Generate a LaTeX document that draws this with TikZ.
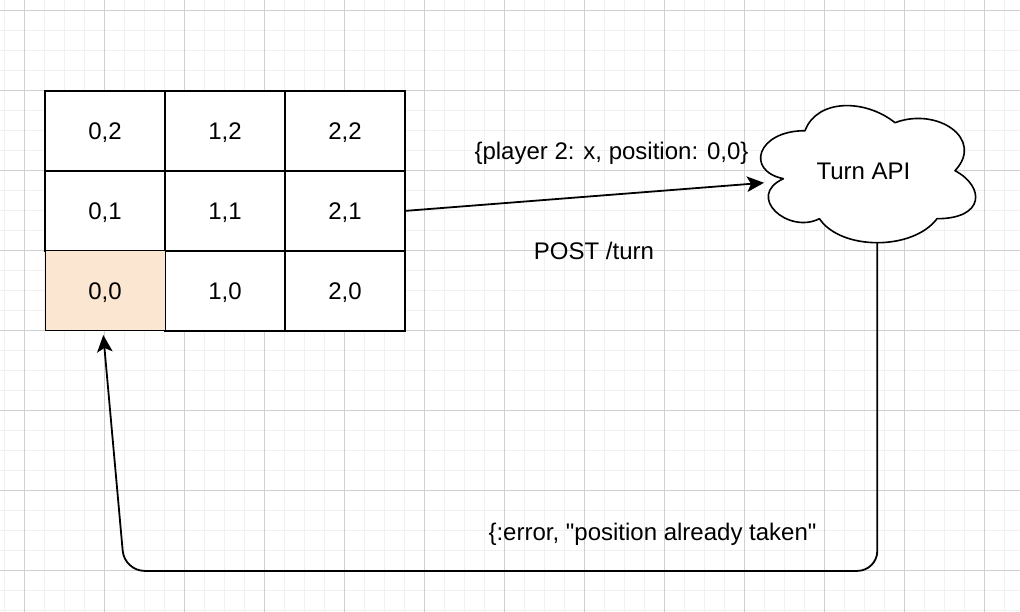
\documentclass[tikz,border=0pt]{standalone}
\usepackage{fontspec}
\setmainfont{Liberation Sans}
\newfontfamily\plainfont{Liberation Sans}
\usetikzlibrary{arrows.meta}
\definecolor{gridminor}{HTML}{F1F1F1}
\definecolor{gridmajor}{HTML}{D0D0D0}
\definecolor{takenfill}{HTML}{FBE7D1}
\tikzset{
  minorline/.style={draw=gridminor,line width=1.5pt},
  majorline/.style={draw=gridmajor,line width=1.2pt},
  label text/.style={font=\plainfont\fontsize{24}{28}\selectfont,inner sep=0pt,outer sep=0pt,text height=18pt,text depth=0pt},
  cell/.style={label text,draw=black,line width=1.8pt,fill=white,minimum width=120pt,minimum height=80pt},
  taken/.style={cell,line width=1pt,fill=takenfill},
  flow/.style={draw=black,line width=1.8pt,-{Stealth[length=17pt,width=15.5pt,inset=4pt]}},
  cloudline/.style={draw=black,fill=white,line width=1.6pt,line join=round}
}
\begin{document}
\begin{tikzpicture}[x=1pt,y=-1pt]
\useasboundingbox (0,0) rectangle (1020,612);
\fill[white] (0,0) rectangle (1020,612);
\foreach \gx in {4.5,24.5,...,1020}{\draw[minorline] (\gx,0) -- (\gx,612);}
\foreach \gy in {10.5,30.5,...,612}{\draw[minorline] (0,\gy) -- (1020,\gy);}
\foreach \gx in {24.5,104.5,...,1020}{\draw[majorline] (\gx,0) -- (\gx,612);}
\foreach \gy in {10.5,90.5,...,612}{\draw[majorline] (0,\gy) -- (1020,\gy);}

\node[cell] (c02) at (105,130.9) {0,2};
\node[cell] (c12) at (225,130.9) {1,2};
\node[cell] (c22) at (345,130.9) {2,2};
\node[cell] (c01) at (105,210.9) {0,1};
\node[cell] (c11) at (225,210.9) {1,1};
\node[cell] (c21) at (345,210.9) {2,1};
\node[cell] (c10) at (225,290.9) {1,0};
\node[cell] (c20) at (345,290.9) {2,0};
\node[taken] (c00) at (105,290.9) {0,0};

\draw[cloudline] (805,130.7)
  .. controls (757,130.7) and (745,170.7) .. (783.4,178.7)
  .. controls (745,196.3) and (788.2,234.7) .. (819.4,218.7)
  .. controls (841,250.7) and (913,250.7) .. (937,218.7)
  .. controls (985,218.7) and (985,186.7) .. (955,170.7)
  .. controls (985,138.7) and (937,106.7) .. (895,122.7)
  .. controls (865,98.7) and (817,98.7) .. (805,130.7) -- cycle;
\node[label text,minimum width=240pt,minimum height=160pt] (api) at (863.5,171) {Turn API};

\coordinate (apiin) at (764,182.8);
\coordinate (apiout) at (877.3,243);
\coordinate (corner1) at (877.3,570.9);
\coordinate (corner2) at (124.5,570.9);
\coordinate (takenin) at (103.3,335);

\draw[flow] (c21.east) -- (apiin);
\draw[flow,rounded corners=20pt] (apiout) -- (corner1) -- (corner2) -- (takenin);

\node[label text] (payload) at (611.5,151) {\{player 2: x, position: 0,0\}};
\node[label text] (post) at (594,251) {POST /turn};
\node[label text] (err) at (652.5,531.5) {\{:error, "position already taken"};
\end{tikzpicture}
\end{document}
